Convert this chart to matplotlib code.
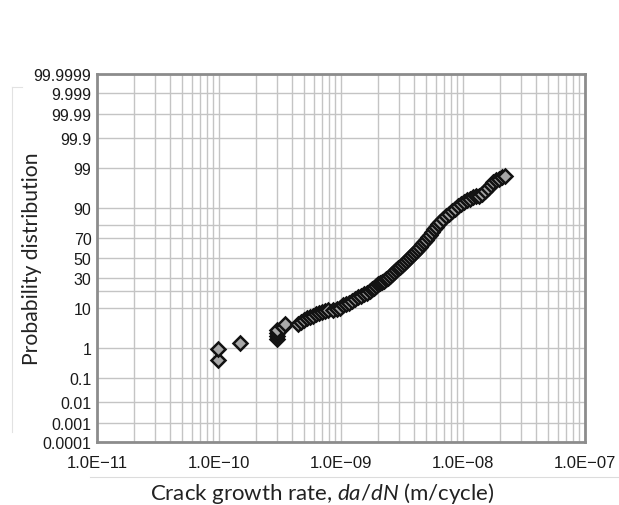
import numpy as np
import matplotlib
matplotlib.use("Agg")
import matplotlib.pyplot as plt
from matplotlib.lines import Line2D
from matplotlib.ticker import FixedLocator, LogLocator, NullFormatter
from statistics import NormalDist

# crack growth rate da/dN (m/cycle)
rate = [9.8e-11, 9.8e-11, 1.49e-10, 2.99e-10, 2.99e-10, 2.99e-10, 2.99e-10, 3.35e-10, 3.48e-10, 4.44e-10,
        4.70e-10, 4.97e-10, 5.26e-10, 5.57e-10, 5.90e-10, 6.24e-10, 6.60e-10, 6.99e-10, 7.39e-10, 7.82e-10,
        8.60e-10, 9.27e-10, 9.81e-10, 1.038e-9, 1.099e-9, 1.163e-9, 1.231e-9, 1.302e-9, 1.378e-9, 1.459e-9,
        1.544e-9, 1.633e-9, 1.729e-9, 1.795e-9, 1.864e-9, 1.936e-9, 2.010e-9, 2.088e-9, 2.168e-9, 2.252e-9,
        2.338e-9, 2.428e-9, 2.521e-9, 2.618e-9, 2.719e-9, 2.823e-9, 2.932e-9, 3.045e-9, 3.162e-9, 3.284e-9,
        3.410e-9, 3.541e-9, 3.678e-9, 3.819e-9, 3.966e-9, 4.118e-9, 4.277e-9, 4.441e-9, 4.612e-9, 4.789e-9,
        4.974e-9, 5.165e-9, 5.363e-9, 5.569e-9, 5.783e-9, 6.006e-9, 6.237e-9, 6.476e-9, 6.855e-9, 7.256e-9,
        7.680e-9, 8.125e-9, 8.601e-9, 9.100e-9, 9.630e-9, 1.019e-8, 1.079e-8, 1.141e-8, 1.208e-8, 1.278e-8,
        1.352e-8, 1.431e-8, 1.515e-8, 1.603e-8, 1.696e-8, 1.762e-8, 1.865e-8, 1.973e-8, 2.088e-8, 2.209e-8]
# cumulative probability (%)
prob = [0.42, 0.94, 1.40, 1.82, 2.19, 2.63, 3.14, 3.73, 4.41, 4.41,
        4.91, 5.46, 6.06, 6.37, 6.70, 7.39, 7.77, 8.15, 8.54, 8.95,
        8.95, 9.37, 9.82, 11.24, 11.72, 12.24, 13.33, 14.48, 15.67, 16.31,
        17.62, 18.30, 19.68, 21.16, 21.92, 23.46, 25.08, 25.91, 26.76, 27.62,
        29.37, 30.27, 32.10, 33.97, 35.87, 37.83, 39.81, 40.79, 42.82, 44.87,
        46.89, 48.96, 51.04, 53.11, 55.13, 57.18, 59.21, 61.18, 64.13, 66.03,
        67.90, 70.63, 72.38, 74.92, 77.31, 78.84, 81.03, 82.38, 84.33, 86.10,
        87.22, 88.76, 89.73, 91.05, 91.85, 92.61, 93.30, 93.64, 94.25, 94.54,
        94.54, 95.09, 95.83, 96.48, 97.04, 97.52, 97.81, 97.94, 98.18, 98.29]

y_ticks = [0.0001, 0.001, 0.01, 0.1, 1, 10, 30, 50, 70, 90, 99, 99.9, 99.99, 99.999, 99.9999]
y_ticklabels = ["0.0001", "0.001", "0.01", "0.1", "1", "10", "30", "50", "70", "90", "99",
                "99.9", "99.99", "9.999", "99.9999"]
y_extra_grid = [20, 80]
x_ticks = [1e-11, 1e-10, 1e-9, 1e-8, 1e-7]
x_ticklabels = ["1.0E\u221211", "1.0E\u221210", "1.0E\u221209", "1.0E\u221208", "1.0E\u221207"]

nd = NormalDist()
_ppf = np.vectorize(lambda p: nd.inv_cdf(min(max(p / 100.0, 1e-12), 1 - 1e-12)))
_cdf = np.vectorize(lambda z: nd.cdf(z) * 100.0)


def fwd(p):
    return _ppf(np.asarray(p, dtype=float))


def inv(z):
    return _cdf(np.asarray(z, dtype=float))


plt.rcParams['mathtext.fontset'] = 'custom'
plt.rcParams['mathtext.rm'] = 'Lato'
plt.rcParams['mathtext.it'] = 'Lato:italic'

fig = plt.figure(figsize=(6.19, 5.06), dpi=100)
ax = fig.add_axes([0.1567, 0.1245, 0.7884, 0.7273])

ax.set_xscale('log')
ax.set_yscale('function', functions=(fwd, inv))
ax.set_xlim(1e-11, 1e-7)
ax.set_ylim(0.0001, 99.9999)

ax.plot(rate, prob, linestyle='none', marker='D', markersize=7,
        markerfacecolor='#a8a8a8', markeredgecolor='#121212', markeredgewidth=1.8, zorder=3)

ax.xaxis.set_major_locator(FixedLocator(x_ticks))
ax.set_xticklabels(x_ticklabels)
ax.xaxis.set_minor_locator(LogLocator(base=10, subs=np.arange(2, 10)))
ax.xaxis.set_minor_formatter(NullFormatter())

ax.yaxis.set_major_locator(FixedLocator(y_ticks))
ax.set_yticklabels(y_ticklabels)
ax.yaxis.set_minor_locator(FixedLocator(y_extra_grid))
ax.yaxis.set_minor_formatter(NullFormatter())

ax.grid(True, which='both', color='#c4c4c4', linewidth=1.0)
ax.set_axisbelow(True)
ax.tick_params(which='both', length=0)
ax.tick_params(axis='y', pad=4)
ax.tick_params(axis='x', pad=9)
for lab in ax.get_yticklabels():
    lab.set_fontfamily('Liberation Sans')
    lab.set_fontsize(11.5)
    lab.set_color('#1a1a1a')
for lab in ax.get_xticklabels():
    lab.set_fontfamily('Liberation Sans')
    lab.set_fontsize(12)
    lab.set_color('#1a1a1a')

for s in ax.spines.values():
    s.set_color('#8c8c8c')
    s.set_linewidth(2)

ax.set_xlabel("Crack growth rate, $da/dN$ (m/cycle)", fontfamily='Lato', fontsize=16, color='#222222')
ax.set_ylabel("Probability distribution", fontfamily='Lato', fontsize=15.2, color='#222222')
ax.xaxis.set_label_coords(0.462, -0.103)
ax.yaxis.set_label_coords(-0.113, 0.50)

# faint frame lines of the surrounding page
fig.add_artist(Line2D([0.145, 1.0], [1 - 478 / 506, 1 - 478 / 506], color='#dcdcdc', linewidth=0.8))
fig.add_artist(Line2D([12 / 619, 12 / 619], [1 - 88 / 506, 1 - 433 / 506], color='#e2e2e2', linewidth=0.8))
fig.add_artist(Line2D([12 / 619, 22 / 619], [1 - 88 / 506, 1 - 88 / 506], color='#e2e2e2', linewidth=0.8))

fig.savefig("out.png", dpi=100)
